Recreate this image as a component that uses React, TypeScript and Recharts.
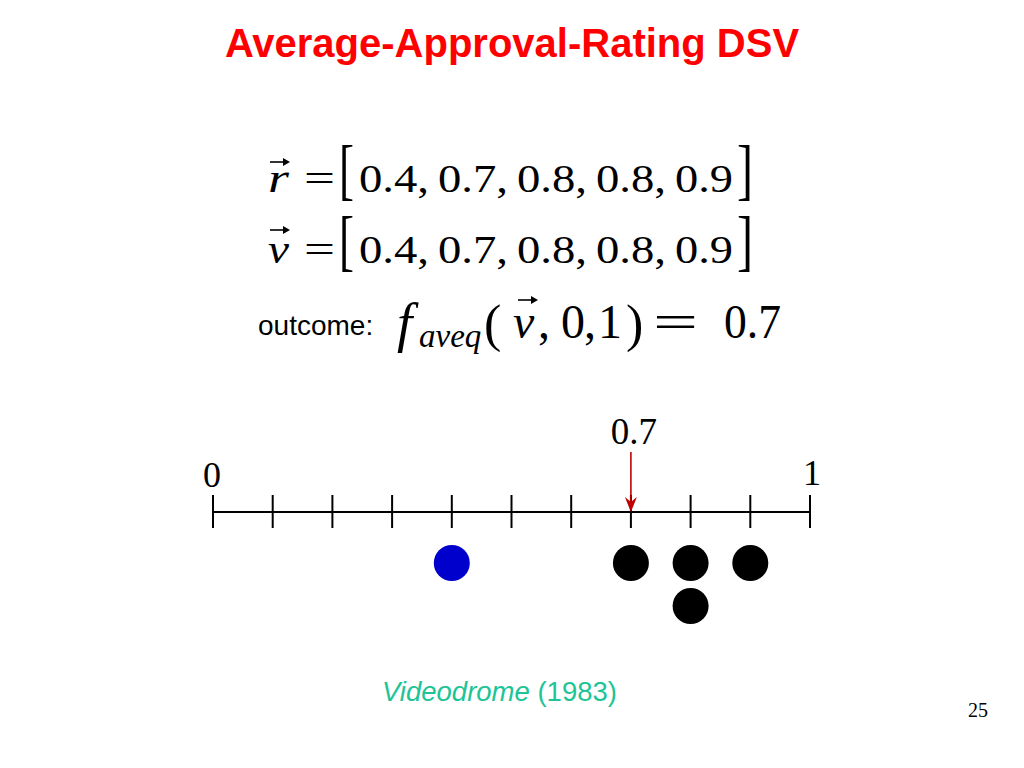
import React from 'react';
import { ScatterChart, Scatter, XAxis, YAxis } from 'recharts';

// ---------- data ----------
const TITLE = 'Average-Approval-Rating DSV';
const R_VALUES = [0.4, 0.7, 0.8, 0.8, 0.9];
const V_VALUES = [0.4, 0.7, 0.8, 0.8, 0.9];
const OUTCOME = 0.7;
const AXIS_DOMAIN = [0, 1];
const AXIS_TICKS = [0, 0.1, 0.2, 0.3, 0.4, 0.5, 0.6, 0.7, 0.8, 0.9, 1];
const END_LABELS = [0, 1];
const HIGHLIGHT_INDEX = 0;
const CAPTION_TITLE = 'Videodrome';
const CAPTION_YEAR = ' (1983)';
const PAGE_NUMBER = '25';

// ---------- styles ----------
const SERIF = '"Liberation Serif", "Times New Roman", serif';
const SANS = '"Liberation Sans", Arial, sans-serif';
const RED = '#ff0000';
const ARROW_RED = '#c00000';
const BLUE = '#0000cc';
const TEAL = '#1ec496';

// stack repeated values into rows (derived from the data)
const points = V_VALUES.map((value, i) => ({
  value,
  row: 1 + V_VALUES.slice(0, i).filter((w) => w === value).length,
  highlight: i === HIGHLIGHT_INDEX,
}));

const VecArrow = ({ x1, x2, y }: { x1: number; x2: number; y: number }) => (
  <g>
    <line x1={x1} y1={y} x2={x2 - 3} y2={y} stroke="#000" strokeWidth={1.6} />
    <path d={`M ${x2 - 7} ${y - 4} L ${x2} ${y} L ${x2 - 7} ${y + 4} Z`} fill="#000" />
  </g>
);

const VectorRow = ({ name, values, base, arrowY }: { name: string; values: number[]; base: number; arrowY: number }) => {
  const start = 359;
  const step = 79;
  return (
    <g fontFamily={SERIF} fill="#000">
      <VecArrow x1={270} x2={290} y={arrowY} />
      <text x={268} y={base} fontSize={40} fontStyle="italic" textLength={21} lengthAdjust="spacingAndGlyphs">
        {name}
      </text>
      <text x={304} y={base} fontSize={40} textLength={31} lengthAdjust="spacingAndGlyphs">=</text>
      <text x={339} y={base} fontSize={67} textLength={15} lengthAdjust="spacingAndGlyphs">[</text>
      {values.map((v, i) => {
        const last = i === values.length - 1;
        return (
          <text
            key={i}
            x={start + i * step}
            y={base}
            fontSize={40}
            textLength={last ? 58 : 70}
            lengthAdjust="spacingAndGlyphs"
          >
            {`${v}${last ? '' : ','}`}
          </text>
        );
      })}
      <text x={737} y={base} fontSize={67} textLength={16} lengthAdjust="spacingAndGlyphs">]</text>
    </g>
  );
};

const OutcomeRow = () => (
  <g fill="#000">
    <text x={258} y={335} fontSize={28} fontFamily={SANS}>outcome:</text>
    <g fontFamily={SERIF}>
      <text x={397} y={341} fontSize={55} fontStyle="italic">f</text>
      <text x={419} y={347} fontSize={33} fontStyle="italic">aveq</text>
      <text x={484} y={341} fontSize={52}>(</text>
      <VecArrow x1={518} x2={538} y={300} />
      <text x={513} y={338} fontSize={48} fontStyle="italic">v</text>
      <text x={538} y={338} fontSize={48}>,</text>
      <text x={561} y={338} fontSize={48}>0</text>
      <text x={584} y={338} fontSize={48}>,</text>
      <text x={598} y={338} fontSize={48}>1</text>
      <text x={626} y={341} fontSize={52}>)</text>
      <text x={653} y={338} fontSize={48} textLength={45} lengthAdjust="spacingAndGlyphs">=</text>
      <text x={724} y={338} fontSize={49} textLength={57} lengthAdjust="spacingAndGlyphs">{`${OUTCOME}`}</text>
    </g>
  </g>
);

const NumberLineTick = (props: any) => {
  const { x, y, payload } = props;
  const v = payload.value;
  const isEnd = END_LABELS.includes(v);
  const isOutcome = Math.abs(v - OUTCOME) < 1e-9;
  return (
    <g>
      <line x1={x} y1={y - 17} x2={x} y2={y + 16} stroke="#000" strokeWidth={2} />
      {isEnd && (
        <text x={x - (v === 0 ? 1 : -2)} y={v === 0 ? y - 25 : y - 27} textAnchor="middle" fontFamily={SERIF} fontSize={36} fill="#000">
          {`${v}`}
        </text>
      )}
      {isOutcome && (
        <g>
          <text x={x + 3} y={y - 68} textAnchor="middle" fontFamily={SERIF} fontSize={37} fill="#000">
            {`${OUTCOME}`}
          </text>
          <line x1={x} y1={y - 60} x2={x} y2={y - 6} stroke={ARROW_RED} strokeWidth={1.6} />
          <path d={`M ${x - 6} ${y - 15} L ${x} ${y} L ${x + 6} ${y - 15} L ${x} ${y - 10} Z`} fill={ARROW_RED} />
        </g>
      )}
    </g>
  );
};

const Dot = (props: any) => {
  const { cx, cy, payload } = props;
  return <circle cx={cx} cy={cy} r={18} fill={payload.highlight ? BLUE : '#000'} />;
};

export default function App() {
  return (
    <div style={{ position: 'fixed', left: 0, top: 0, width: 1024, height: 768, background: '#fff' }}>
      <ScatterChart width={1024} height={768} margin={{ top: 482, left: 213, right: 214, bottom: 119 }}>
        <XAxis
          type="number"
          dataKey="value"
          domain={AXIS_DOMAIN}
          ticks={AXIS_TICKS}
          interval={0}
          orientation="top"
          height={30}
          tickSize={0}
          tickMargin={0}
          tickLine={false}
          axisLine={{ stroke: '#000', strokeWidth: 2 }}
          tick={<NumberLineTick />}
          allowDataOverflow
        />
        <YAxis type="number" dataKey="row" domain={[0, 3]} reversed hide padding={{ top: 8, bottom: 0 }} allowDataOverflow />
        <Scatter data={points} shape={<Dot />} isAnimationActive={false} />
      </ScatterChart>
      <svg width={1024} height={768} style={{ position: 'absolute', left: 0, top: 0, pointerEvents: 'none' }}>
        <text x={512} y={57} textAnchor="middle" fontFamily={SANS} fontWeight="bold" fontSize={40} fill={RED}>
          {TITLE}
        </text>
        <VectorRow name="r" values={R_VALUES} base={192} arrowY={162} />
        <VectorRow name="v" values={V_VALUES} base={263} arrowY={230} />
        <OutcomeRow />
        <text x={382} y={701} fontFamily={SANS} fontSize={27.5} fill={TEAL}>
          <tspan fontStyle="italic">{CAPTION_TITLE}</tspan>
          <tspan>{CAPTION_YEAR}</tspan>
        </text>
        <text x={968} y={717} fontFamily={SERIF} fontSize={20} fill="#000">{PAGE_NUMBER}</text>
      </svg>
    </div>
  );
}
